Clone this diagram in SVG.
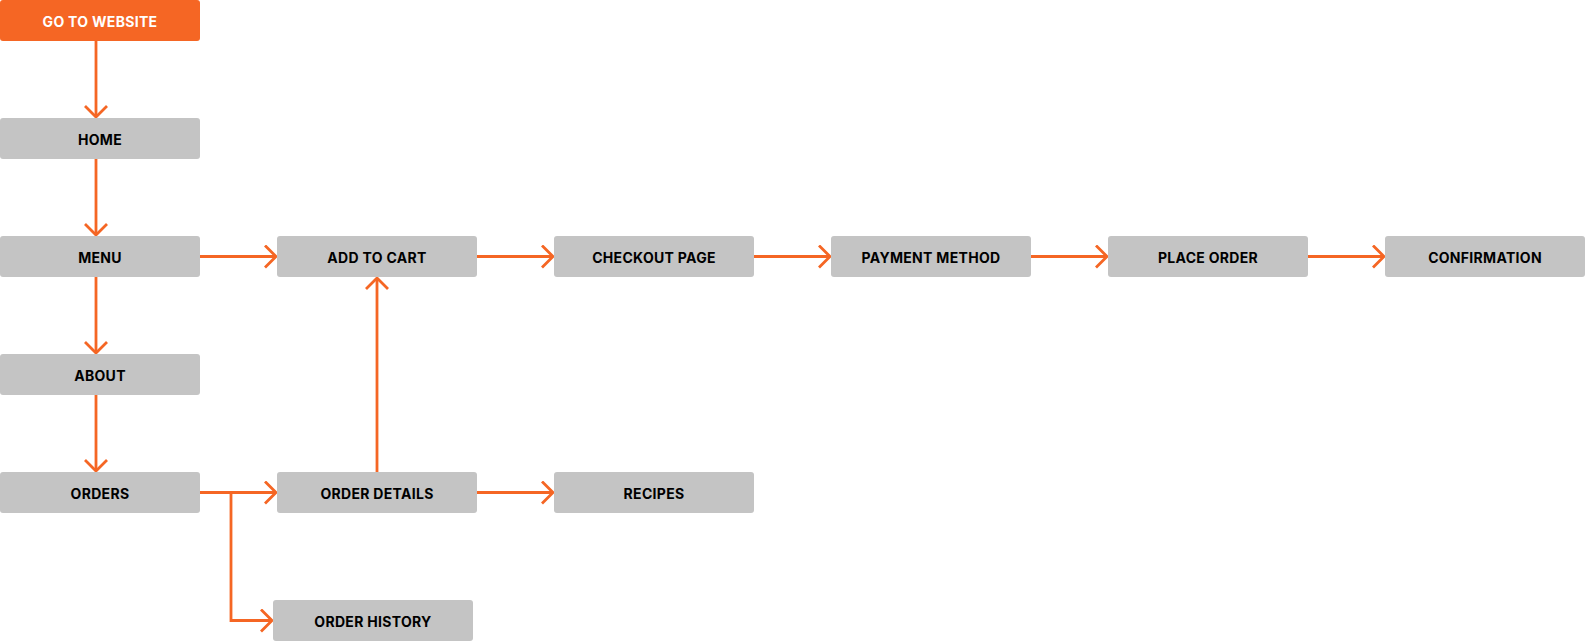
<svg xmlns="http://www.w3.org/2000/svg" width="1585" height="641" viewBox="0 0 1585 641">
<style>
.n rect{fill:#C4C4C4}
.n text{font-family:Inter,"Liberation Sans",sans-serif;font-weight:700;font-size:14px;letter-spacing:0.3px;fill:#000;text-anchor:middle;dominant-baseline:central}
#start rect{fill:#F56624}
#start text{fill:#fff}
.c{fill:none;stroke:#F56624;stroke-width:2.8}
</style>
<defs>
<marker id="ah" viewBox="-12 -12 14 24" markerWidth="14" markerHeight="24" refX="0" refY="0" orient="auto" markerUnits="userSpaceOnUse">
<path d="M-11,-11 L0,0 L-11,11" fill="none" stroke="#F56624" stroke-width="2.8"/>
</marker>
</defs>
<g id="connectors">
<path class="c" d="M96,41 V117" marker-end="url(#ah)"/>
<path class="c" d="M96,159 V235" marker-end="url(#ah)"/>
<path class="c" d="M96,277 V353" marker-end="url(#ah)"/>
<path class="c" d="M96,395 V471" marker-end="url(#ah)"/>
<path class="c" d="M200,256.5 H276" marker-end="url(#ah)"/>
<path class="c" d="M477,256.5 H553" marker-end="url(#ah)"/>
<path class="c" d="M754,256.5 H830" marker-end="url(#ah)"/>
<path class="c" d="M1031,256.5 H1107" marker-end="url(#ah)"/>
<path class="c" d="M1308,256.5 H1384" marker-end="url(#ah)"/>
<path class="c" d="M200,492.5 H276" marker-end="url(#ah)"/>
<path class="c" d="M231,492.5 V620.5 H272" marker-end="url(#ah)"/>
<path class="c" d="M377,472 V278" marker-end="url(#ah)"/>
<path class="c" d="M477,492.5 H553" marker-end="url(#ah)"/>
</g>
<g id="start" class="n"><rect x="0" y="0" width="200" height="41" rx="3"/><text x="100" y="21.5">GO TO WEBSITE</text></g>
<g id="home" class="n"><rect x="0" y="118" width="200" height="41" rx="3"/><text x="100" y="139.5">HOME</text></g>
<g id="menu" class="n"><rect x="0" y="236" width="200" height="41" rx="3"/><text x="100" y="257.5">MENU</text></g>
<g id="about" class="n"><rect x="0" y="354" width="200" height="41" rx="3"/><text x="100" y="375.5">ABOUT</text></g>
<g id="orders" class="n"><rect x="0" y="472" width="200" height="41" rx="3"/><text x="100" y="493.5">ORDERS</text></g>
<g id="addtocart" class="n"><rect x="277" y="236" width="200" height="41" rx="3"/><text x="377" y="257.5">ADD TO CART</text></g>
<g id="checkout" class="n"><rect x="554" y="236" width="200" height="41" rx="3"/><text x="654" y="257.5">CHECKOUT PAGE</text></g>
<g id="payment" class="n"><rect x="831" y="236" width="200" height="41" rx="3"/><text x="931" y="257.5">PAYMENT METHOD</text></g>
<g id="placeorder" class="n"><rect x="1108" y="236" width="200" height="41" rx="3"/><text x="1208" y="257.5">PLACE ORDER</text></g>
<g id="confirmation" class="n"><rect x="1385" y="236" width="200" height="41" rx="3"/><text x="1485" y="257.5">CONFIRMATION</text></g>
<g id="orderdetails" class="n"><rect x="277" y="472" width="200" height="41" rx="3"/><text x="377" y="493.5">ORDER DETAILS</text></g>
<g id="recipes" class="n"><rect x="554" y="472" width="200" height="41" rx="3"/><text x="654" y="493.5">RECIPES</text></g>
<g id="orderhistory" class="n"><rect x="273" y="600" width="200" height="41" rx="3"/><text x="373" y="621.5">ORDER HISTORY</text></g>
</svg>
